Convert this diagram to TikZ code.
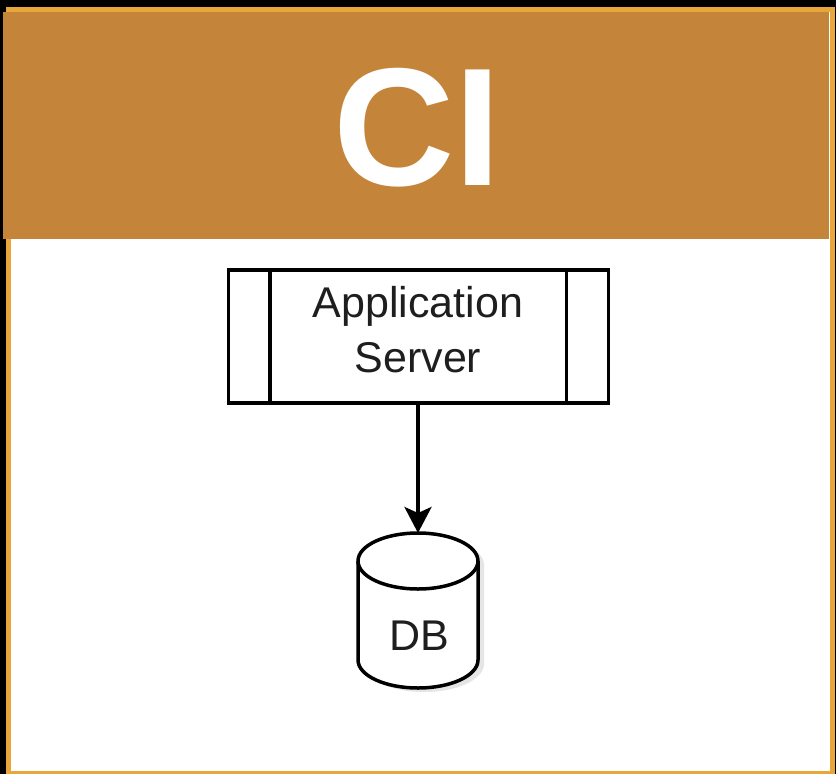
\documentclass[tikz,border=0pt]{standalone}
\usepackage{fontspec}
\setmainfont{Liberation Sans}
\usetikzlibrary{arrows.meta}
\definecolor{framegold}{HTML}{E8A73A}
\definecolor{headerbrown}{HTML}{C4843A}
\definecolor{inkgray}{HTML}{1E1E1E}
\tikzset{
  outline/.style={draw=black, line width=3.5pt},
  label/.style={font=\fontsize{43}{55}\selectfont, text=inkgray, align=center},
  flow/.style={line width=3.5pt, -{Stealth[length=26pt, width=27pt, inset=6pt]}},
}
\begin{document}
\begin{tikzpicture}[x=1pt, y=-1pt]
  \useasboundingbox (0,0) rectangle (836,774);
  % page background
  \fill[black] (0,0) rectangle (836,774);
  % white panel with golden frame
  \fill[white] (8,9) rectangle (832,773);
  \draw[framegold, line width=5pt] (8.5,9) rectangle (832.5,773);
  % title band
  \fill[headerbrown] (3,12) rectangle (829,239);
  \node[font=\bfseries\fontsize{168}{168}\selectfont, text=white] (title) at (417,128) {CI};

  % application server (process box with side bars)
  \node[outline, fill=white, minimum width=380pt, minimum height=133pt, inner sep=0pt] (app) at (418.5,336.5) {};
  \draw[line width=3.5pt] ([xshift=43pt]app.north west) -- ([xshift=43pt]app.south west);
  \draw[line width=3.5pt] ([xshift=-44pt]app.north east) -- ([xshift=-44pt]app.south east);
  \node[label] (applabel) at (418,330) {Application\\Server};

  % database cylinder with a soft shadow (arc radii are canvas lengths, so 270 points down)
  \fill[black!10] (364,565) -- (364,664) arc[start angle=180, end angle=360, x radius=60pt, y radius=28pt] -- (484,565) arc[start angle=0, end angle=180, x radius=60pt, y radius=28pt] -- cycle;
  \filldraw[outline, fill=white] (358,561) -- (358,660) arc[start angle=180, end angle=360, x radius=60pt, y radius=28pt] -- (478,561) arc[start angle=0, end angle=180, x radius=60pt, y radius=28pt] -- cycle;
  \draw[line width=3.5pt] (358,561) arc[start angle=180, end angle=360, x radius=60pt, y radius=28pt];
  \coordinate (dbtop) at (418,533);
  \node[label] (db) at (419,636) {DB};

  % connector
  \draw[flow] (app.south -| dbtop) -- (dbtop);
\end{tikzpicture}
\end{document}
